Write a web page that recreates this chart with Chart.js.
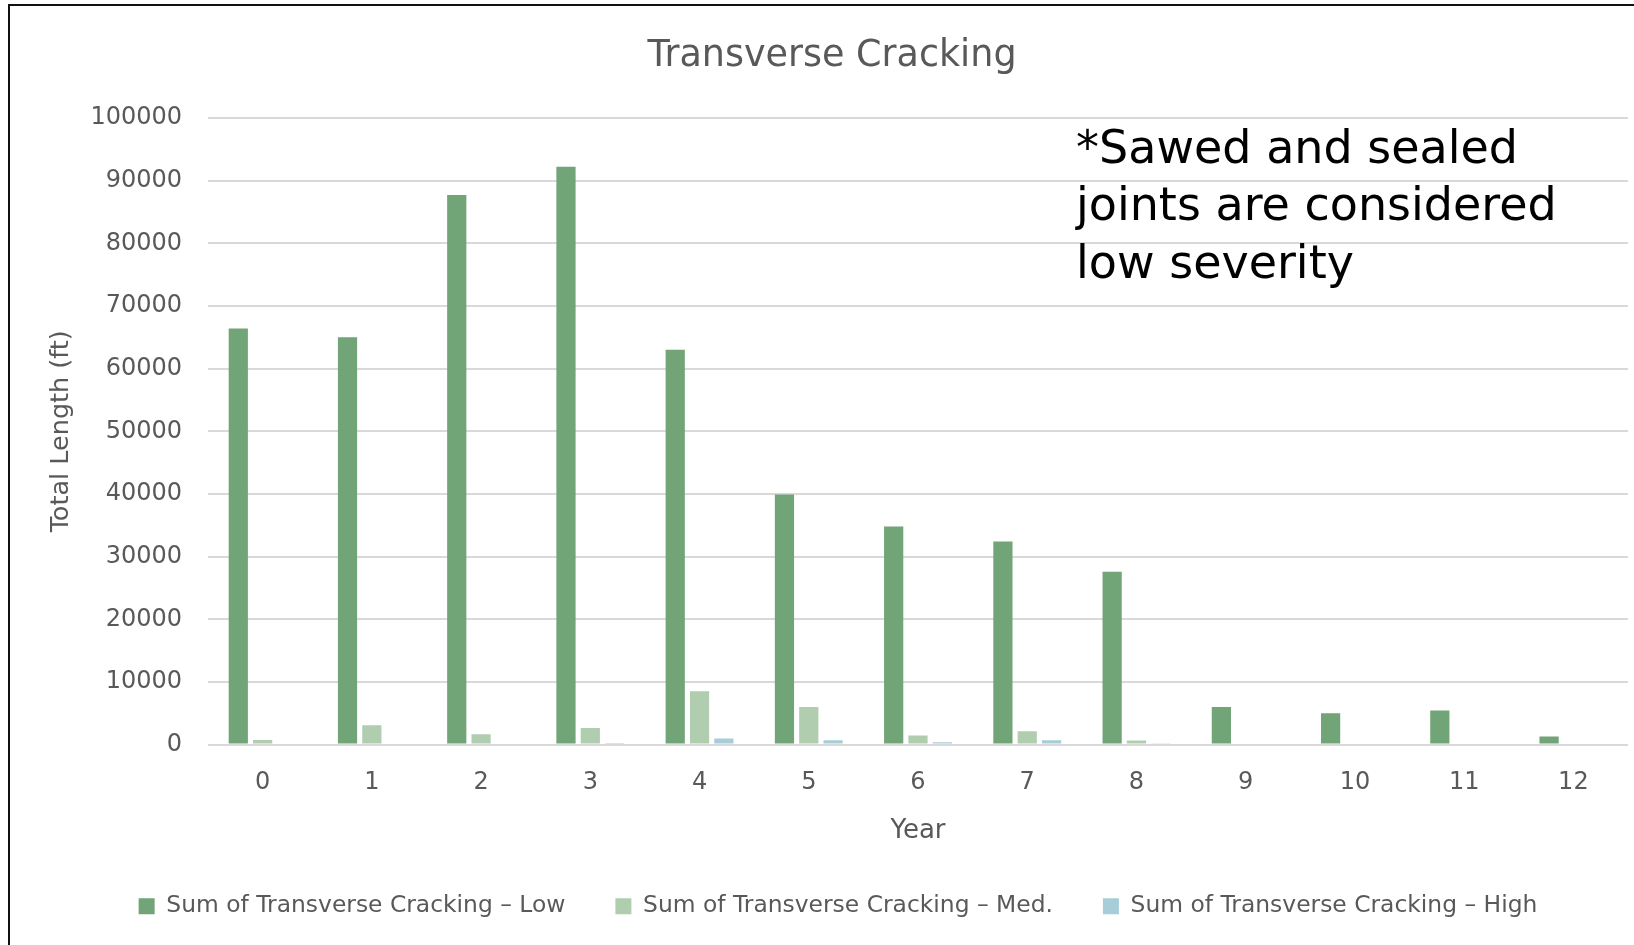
<!DOCTYPE html>
<html>
<head>
<meta charset="utf-8">
<script src="https://cdn.jsdelivr.net/npm/chart.js@4.4.1/dist/chart.umd.min.js"></script>
<style>
    html, body { margin: 0; padding: 0; background: #fff; }
    #wrap { width: 1634px; height: 945px; position: relative; }
</style>
</head>
<body>
<div id="wrap"><canvas id="chart" width="1634" height="945"></canvas></div>
<script>
// --- Data ---
const years = ['0', '1', '2', '3', '4', '5', '6', '7', '8', '9', '10', '11', '12'];
const lowValues = [66400, 65000, 87700, 92200, 63000, 39900, 34800, 32400, 27600, 6000, 5000, 5450, 1300];
const medValues = [750, 3100, 1650, 2650, 8500, 6000, 1450, 2150, 650, 0, 0, 0, 0];
const highValues = [160, 0, 0, 260, 960, 700, 370, 700, 210, 0, 0, 0, 0];
const seriesNames = [
    'Sum of Transverse Cracking – Low',
    'Sum of Transverse Cracking – Med.',
    'Sum of Transverse Cracking – High'
];
const seriesColors = ['#71a477', '#b0cdb0', '#a6cdd8'];
const chartTitle = 'Transverse Cracking';
const noteLines = ['*Sawed and sealed', 'joints are considered', 'low severity'];

const FONT = "'DejaVu Sans', 'Liberation Sans', sans-serif";
const GREY = '#595959';

// frame, title and note text
const framePlugin = {
    id: 'frame',
    beforeDraw(chart) {
        const ctx = chart.ctx;
        ctx.save();
        ctx.fillStyle = '#fff';
        ctx.fillRect(0, 0, chart.width, chart.height);
        ctx.strokeStyle = '#111';
        ctx.lineWidth = 2;
        ctx.beginPath();
        ctx.moveTo(9, chart.height);
        ctx.lineTo(9, 5);
        ctx.lineTo(chart.width, 5);
        ctx.stroke();
        ctx.restore();
    },
    afterDraw(chart) {
        const ctx = chart.ctx;
        ctx.save();
        ctx.textBaseline = 'middle';
        ctx.fillStyle = GREY;
        ctx.font = '36.5px ' + FONT;
        ctx.textAlign = 'center';
        ctx.fillText(chartTitle, 832, 57);
        ctx.fillStyle = '#000';
        ctx.font = '46px ' + FONT;
        ctx.textAlign = 'left';
        noteLines.forEach((line, i) => {
            ctx.fillText(line, 1076, 151 + i * 57.5);
        });
        ctx.restore();
    }
};

new Chart(document.getElementById('chart'), {
    type: 'bar',
    data: {
        labels: years,
        datasets: [lowValues, medValues, highValues].map((vals, i) => ({
            label: seriesNames[i],
            data: vals,
            backgroundColor: seriesColors[i],
            borderWidth: 0,
            categoryPercentage: 0.668,
            barPercentage: 0.79
        }))
    },
    options: {
        responsive: false,
        animation: false,
        layout: { padding: { left: 48, right: 6, top: 118, bottom: 17 } },
        plugins: {
            title: { display: false },
            legend: {
                position: 'bottom',
                labels: {
                    color: GREY,
                    font: { family: FONT, size: 23.4 },
                    boxWidth: 16,
                    boxHeight: 16,
                    padding: 50
                }
            },
            tooltip: { enabled: false }
        },
        scales: {
            x: {
                grid: { display: false, drawTicks: false },
                border: { display: false },
                ticks: { color: GREY, font: { family: FONT, size: 24 }, padding: 24 },
                title: {
                    display: true,
                    text: 'Year',
                    color: GREY,
                    font: { family: FONT, size: 26 },
                    padding: { top: 0, bottom: -2 }
                },
                afterFit(scale) { scale.height = 100; }
            },
            y: {
                min: 0,
                max: 100000,
                ticks: {
                    stepSize: 10000,
                    color: GREY,
                    font: { family: FONT, size: 24 },
                    padding: 26,
                    callback: v => String(v)
                },
                grid: { color: '#d9d9d9', lineWidth: 2, drawTicks: false },
                border: { display: false },
                title: {
                    display: true,
                    text: 'Total Length (ft)',
                    color: GREY,
                    font: { family: FONT, size: 25.5 },
                    padding: { top: -1.5, bottom: 0 }
                },
                afterFit(scale) { scale.width = 160; }
            }
        }
    },
    plugins: [framePlugin]
});
</script>
</body>
</html>
